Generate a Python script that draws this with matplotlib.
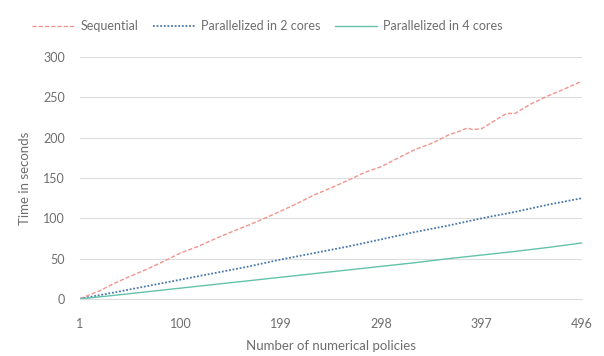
import matplotlib.pyplot as plt

# timings read per number of policies
policies_seq = [1, 20, 34, 50, 67, 84, 100, 117, 133, 150, 166, 183, 199, 216, 232, 249, 265, 282, 298,
                315, 331, 348, 364, 375, 383, 388, 397, 406, 415, 422, 430, 446, 463, 480, 496]
sequential = [0.5, 10, 19, 28, 37, 47, 57, 65, 74, 83, 91, 100, 109, 119, 129, 138, 147, 157, 164,
              175, 185, 193, 203, 208, 212, 210, 211, 218, 225, 230, 230, 242, 252, 261, 270]

policies_par = [1, 34, 67, 100, 133, 166, 199, 232, 265, 298, 331, 364, 397, 430, 463, 496]
parallel_2 = [0.3, 8, 16, 24, 32, 40, 49, 57, 65, 74, 83, 91, 100, 108, 117, 125]
parallel_4 = [0.2, 4.5, 9, 13.5, 18, 22.5, 27, 31.5, 36, 40.5, 45, 50, 54.5, 59, 64, 69.5]

x_ticks = [1, 100, 199, 298, 397, 496]
y_ticks = [0, 50, 100, 150, 200, 250, 300]

plt.rcParams['font.family'] = ['Lato', 'DejaVu Sans']
grey = '#6E6E6E'

fig = plt.figure(figsize=(6.04, 3.56), dpi=100)
ax = fig.add_axes([0.1325, 0.160, 0.831, 0.680])

ax.plot(policies_seq, sequential, color='#F0948C', linestyle=(0, (3, 1.5)), linewidth=1.0, label='Sequential')
ax.plot(policies_par, parallel_2, color='#4A78AC', linestyle=(0, (1, 1)), linewidth=1.3,
        label='Parallelized in 2 cores')
ax.plot(policies_par, parallel_4, color='#63C2AA', linestyle='-', linewidth=1.0,
        label='Parallelized in 4 cores')

ax.set_xlim(1, 496)
ax.set_ylim(0, 300)
ax.set_xticks(x_ticks)
ax.set_yticks(y_ticks)
ax.grid(axis='y', color='#DDDDDD', linewidth=0.8)
ax.set_axisbelow(True)
for side in ['top', 'right', 'left']:
    ax.spines[side].set_visible(False)
ax.spines['bottom'].set_color('#DDDDDD')
ax.tick_params(axis='both', length=0, labelsize=9, colors=grey)
ax.tick_params(axis='x', pad=14)
ax.tick_params(axis='y', pad=11)

ax.set_xlabel('Number of numerical policies', fontsize=9.5, color=grey, labelpad=7)
ax.set_ylabel('Time in seconds', fontsize=9.5, color=grey, labelpad=9)

fig.legend(loc='upper center', bbox_to_anchor=(0.443, 0.975), ncol=3, frameon=False, fontsize=9,
           labelcolor=grey, handlelength=3.4, columnspacing=1.1, handletextpad=0.5)

fig.savefig('out.png', dpi=100)
